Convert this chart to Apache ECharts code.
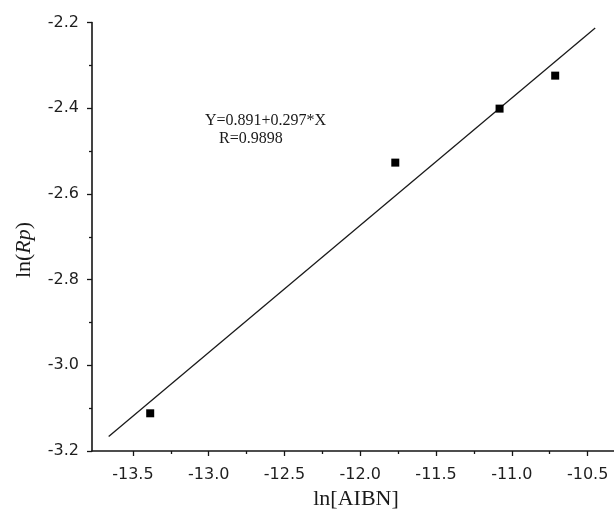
<!DOCTYPE html>
<html>
<head>
<meta charset="utf-8">
<script src="https://cdn.jsdelivr.net/npm/echarts@6/dist/echarts.min.js"></script>
<style>
  html, body { margin: 0; padding: 0; background: #fff; }
  #chart { width: 614px; height: 513px; }
</style>
</head>
<body>
<div id="chart"></div>
<script>
// Measured points: ln[AIBN] vs ln(Rp)
const lnAIBN = [-13.386, -11.769, -11.081, -10.714];
const lnRp = [-3.112, -2.527, -2.401, -2.324];

// Linear fit as printed on the plot: Y = intercept + slope * X
const fitIntercept = 0.891;
const fitSlope = 0.297;
const fitR = 0.9898;
const fitXRange = [-13.66, -10.45];

// Axis tick values
const xMajorTicks = [-13.5, -13.0, -12.5, -12.0, -11.5, -11.0, -10.5];
const xMinorTicks = [-13.25, -12.75, -12.25, -11.75, -11.25, -10.75];

const fitLine = fitXRange.map(x => [x, fitIntercept + fitSlope * x]);
const points = lnAIBN.map((x, i) => [x, lnRp[i]]);

const xMin = -13.77, xMax = -10.326;
const ink = '#151515';
const serif = '"Liberation Serif", "Times New Roman", serif';

const chart = echarts.init(document.getElementById('chart'), null, { renderer: 'canvas' });
chart.setOption({
  backgroundColor: '#ffffff',
  animation: false,
  grid: { left: 92, right: 0, top: 22.5, bottom: 62 },
  xAxis: [
    {
      type: 'value', min: xMin, max: xMax,
      axisLine: { show: true, onZero: false, lineStyle: { color: ink, width: 1.6 } },
      axisTick: { show: true, length: 5, customValues: xMajorTicks, lineStyle: { color: ink, width: 1.3 } },
      axisLabel: {
        customValues: xMajorTicks, margin: 16, color: '#1e1e1e',
        fontFamily: 'DejaVu Sans', fontSize: 16,
        formatter: v => v.toFixed(1)
      },
      splitLine: { show: false }
    },
    {
      type: 'value', min: xMin, max: xMax, position: 'bottom',
      axisLine: { show: false },
      axisTick: { show: true, length: 3, customValues: xMinorTicks, lineStyle: { color: ink, width: 1.3 } },
      axisLabel: { show: false },
      splitLine: { show: false }
    }
  ],
  yAxis: {
    type: 'value', min: -3.2, max: -2.2, interval: 0.2,
    axisLine: { show: true, onZero: false, lineStyle: { color: ink, width: 1.6 } },
    axisTick: { show: true, length: 5, lineStyle: { color: ink, width: 1.3 } },
    minorTick: { show: true, splitNumber: 2, length: 3, lineStyle: { color: ink, width: 1.3 } },
    axisLabel: {
      margin: 13, color: '#1e1e1e',
      fontFamily: 'DejaVu Sans', fontSize: 16,
      formatter: v => v.toFixed(1)
    },
    splitLine: { show: false }
  },
  series: [
    {
      type: 'line', data: fitLine, showSymbol: false, symbol: 'none',
      lineStyle: { color: '#1a1a1a', width: 1.3 }, z: 2
    },
    {
      type: 'scatter', data: points, symbol: 'rect', symbolSize: 8,
      itemStyle: { color: '#000', opacity: 1 }, z: 3
    }
  ],
  graphic: [
    {
      type: 'text', left: 205, top: 113,
      style: {
        text: 'Y=' + fitIntercept.toFixed(3) + '+' + fitSlope.toFixed(3) + '*X',
        font: '16px ' + serif, fill: '#1a1a1a'
      }
    },
    {
      type: 'text', left: 219, top: 131,
      style: {
        text: 'R=' + fitR.toFixed(4),
        font: '16px ' + serif, fill: '#1a1a1a'
      }
    },
    {
      type: 'text', x: 356, y: 499,
      style: {
        text: 'ln[AIBN]',
        font: '22px ' + serif, fill: '#1a1a1a',
        textAlign: 'center', textVerticalAlign: 'middle',
        align: 'center', verticalAlign: 'middle'
      }
    },
    {
      type: 'text', x: 24, y: 250, rotation: Math.PI / 2,
      style: {
        text: 'ln({i|Rp})',
        font: '22px ' + serif, fill: '#1a1a1a',
        textAlign: 'center', textVerticalAlign: 'middle',
        align: 'center', verticalAlign: 'middle',
        rich: {
          i: { fontStyle: 'italic', fontSize: 22, fontFamily: serif, fill: '#1a1a1a', color: '#1a1a1a' }
        }
      }
    }
  ]
});
</script>
</body>
</html>
